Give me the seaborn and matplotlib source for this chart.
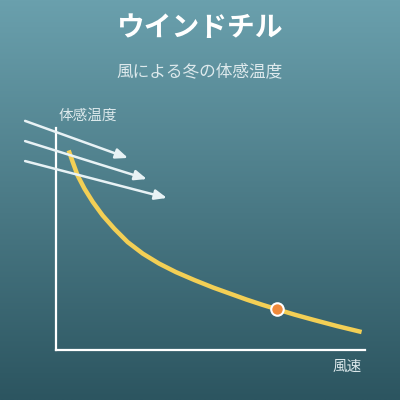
import numpy as np
import pandas as pd
import matplotlib
matplotlib.use('Agg')
import matplotlib.pyplot as plt
from matplotlib.colors import LinearSegmentedColormap
import seaborn as sns

# Wind chill curve (wind speed vs. felt temperature, arbitrary units)
wind_speed = [0.41, 0.54, 0.70, 0.92, 1.19, 1.51, 1.89, 2.32, 2.81, 3.34, 3.88,
              4.48, 5.09, 5.63, 6.17, 6.67, 7.16, 7.73, 8.33, 9.09, 9.89]
felt_temp = [8.99, 8.47, 7.86, 7.27, 6.67, 6.06, 5.46, 4.86, 4.34, 3.89, 3.51,
             3.15, 2.81, 2.54, 2.27, 2.04, 1.83, 1.59, 1.36, 1.08, 0.81]

# highlighted point
point_x = [7.16]
point_y = [1.83]

# wind arrows (start x, start y, end x, end y)
arrow_start_x = [-1.0, -1.0, -1.0]
arrow_start_y = [10.32, 9.41, 8.51]
arrow_end_x = [2.33, 2.94, 3.59]
arrow_end_y = [8.65, 7.70, 6.85]

title = 'ウインドチル'
subtitle = '風による冬の体感温度'
y_label = '体感温度'
x_label = '風速'

sns.set_theme(style='white')
plt.rcParams['font.family'] = ['Noto Sans CJK JP', 'DejaVu Sans']

fig = plt.figure(figsize=(4, 4), dpi=100)

# gradient background
bg = fig.add_axes([0, 0, 1, 1], zorder=0)
cmap = LinearSegmentedColormap.from_list('bg', ['#6aa0ad', '#2c5560'])
bg.imshow(np.linspace(0, 1, 256).reshape(-1, 1), aspect='auto', cmap=cmap, extent=[0, 1, 0, 1])
bg.set_axis_off()

ax = fig.add_axes([56 / 400, 50 / 400, 309 / 400, 222 / 400], zorder=1)
ax.patch.set_alpha(0)

df = pd.DataFrame({'wind': wind_speed, 'temp': felt_temp})
sns.lineplot(data=df, x='wind', y='temp', ax=ax, color='#f3cf55', linewidth=3.2,
             solid_capstyle='butt', solid_joinstyle='round', sort=False)
ax.plot(point_x, point_y, 'o', color='#f08a3a', markersize=9, markeredgecolor='white',
        markeredgewidth=1.5, zorder=5)

for sx, sy, ex, ey in zip(arrow_start_x, arrow_start_y, arrow_end_x, arrow_end_y):
    ax.annotate('', xy=(ex, ey), xytext=(sx, sy), annotation_clip=False,
                arrowprops=dict(arrowstyle='-|>,head_length=0.6,head_width=0.25',
                                color='#e8f2f5', lw=1.8, shrinkA=0, shrinkB=0), zorder=6)

ax.set_xlim(0, 10)
ax.set_ylim(0, 10)
ax.set_xticks([])
ax.set_yticks([])
ax.set_xlabel('')
ax.set_ylabel('')
for side in ['top', 'right']:
    ax.spines[side].set_visible(False)
for side in ['left', 'bottom']:
    ax.spines[side].set_color('white')
    ax.spines[side].set_linewidth(1.6)

fig.text(0.5, 1 - 28 / 400, title, ha='center', va='center', fontsize=20,
         fontweight='bold', color='white')
fig.text(0.5, 1 - 72 / 400, subtitle, ha='center', va='center', fontsize=12,
         color='#dde9ec')
fig.text(88 / 400, 1 - 116 / 400, y_label, ha='center', va='center', fontsize=10.5,
         color='#dde9ec')
fig.text(347 / 400, 1 - 367 / 400, x_label, ha='center', va='center', fontsize=10.5,
         color='#dde9ec')

fig.savefig('out.png', dpi=100)
